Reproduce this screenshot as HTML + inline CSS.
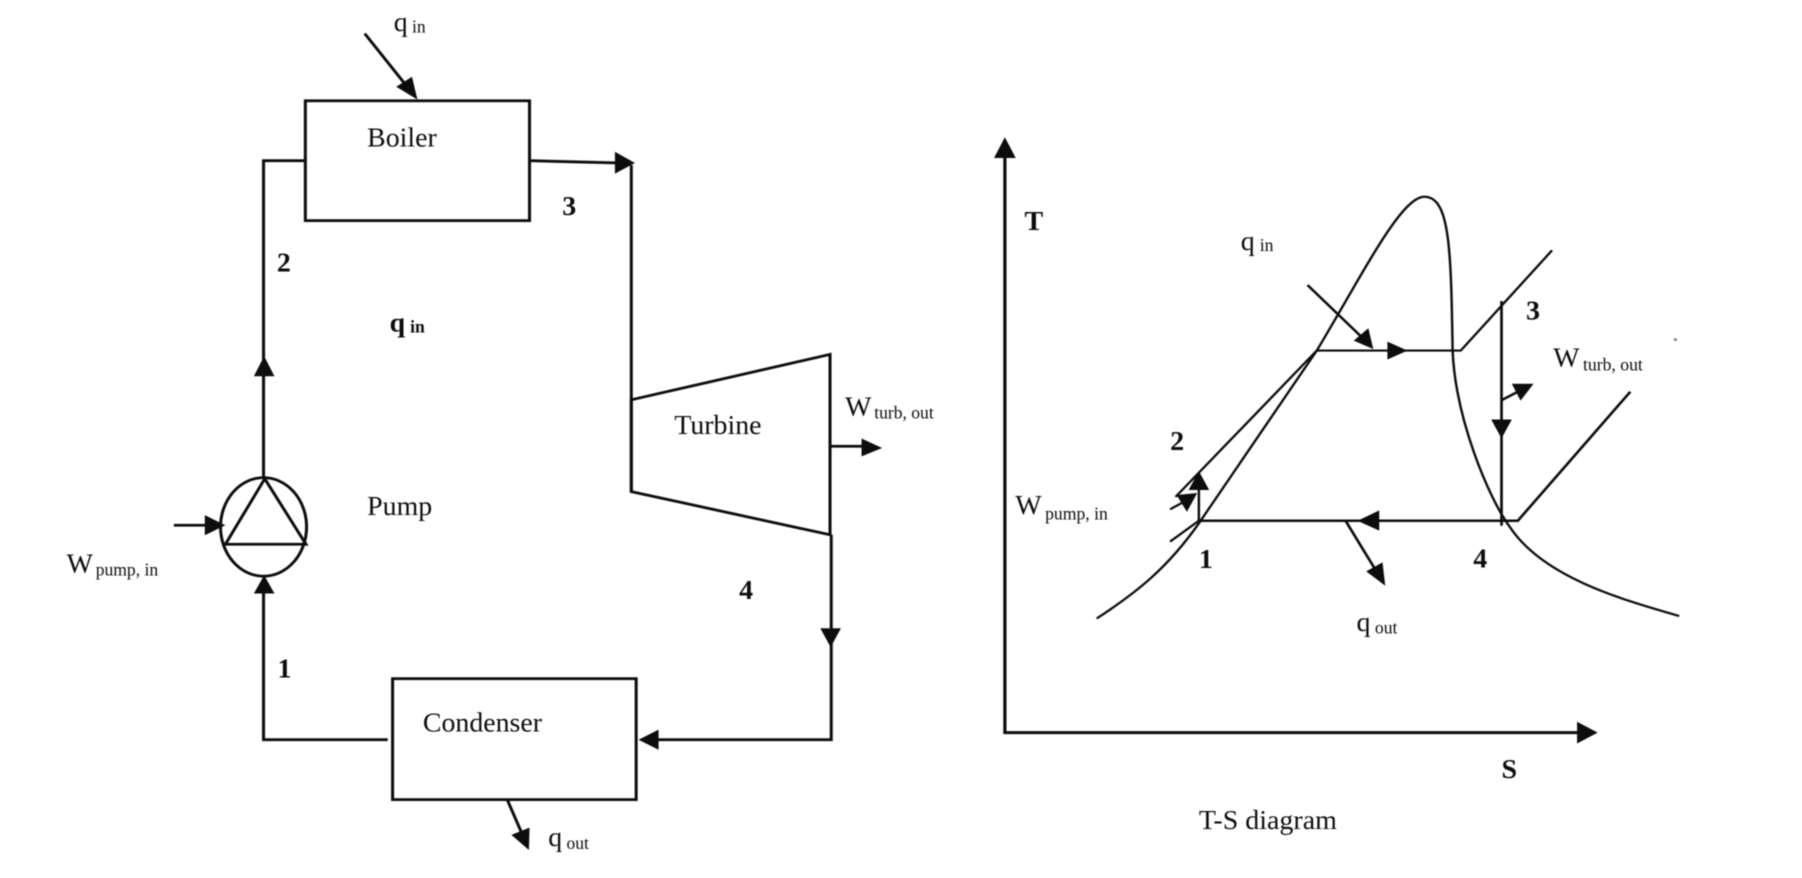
<!DOCTYPE html>
<html><head><meta charset="utf-8"><style>
html,body{margin:0;padding:0;background:#fff;width:1802px;height:878px;overflow:hidden}
svg{display:block}
text{font-family:"Liberation Serif",serif;fill:#111}
.b{font-weight:bold}
.l{font-size:46px}.ls{font-size:29px}
.r{font-size:51.5px}.rs{font-size:32.5px}
path,line,ellipse,rect,polygon.o{fill:none;stroke:#111;stroke-width:5}
polygon.h{fill:#111;stroke:none}
</style></head><body>
<svg width="1802" height="878" viewBox="0 0 1802 878" xmlns="http://www.w3.org/2000/svg">
<defs><filter id="f" x="-5%" y="-5%" width="110%" height="110%"><feGaussianBlur stdDeviation="0.6"/></filter></defs>
<g filter="url(#f)">
<g transform="scale(0.60586,0.55995)">
<rect x="504" y="180" width="370" height="214"/>
<rect x="648" y="1212" width="402" height="216"/>
<path d="M503,287H435V855"/>
<path d="M874,287L1020,291"/>
<polygon class="h" points="1048,291 1015,271 1015,310"/>
<path d="M1042,295V878"/>
<polygon class="o" points="1042,714 1370,633 1370,955 1042,878"/>
<path d="M1372,955V1321H1080"/>
<polygon class="h" points="1371,1156 1354,1122 1388,1122"/>
<polygon class="h" points="1054,1321 1087,1303 1087,1339"/>
<path d="M640,1321H435V1050"/>
<polygon class="h" points="436,1027 419,1060 453,1060"/>
<ellipse cx="435" cy="941" rx="71" ry="88"/>
<polygon class="o" points="437,855 372,972 505,972"/>
<polygon class="h" points="436,636 419,672 453,672"/>
<path d="M602,60L670,152"/>
<polygon class="h" points="689,178 654,155 680,137"/>
<path d="M287,938H345"/>
<polygon class="h" points="372,938 338,920 338,956"/>
<path d="M1372,797H1430"/>
<polygon class="h" points="1456,800 1422,783 1422,815"/>
<path d="M838,1430L860,1485"/>
<polygon class="h" points="873,1518 844,1491 874,1478"/>
</g>
<g transform="scale(0.60586)">
<text class="l" x="606" y="242">Boiler</text>
<text class="l" x="1113" y="716">Turbine</text>
<text class="l" x="606" y="850">Pump</text>
<text class="l" x="698" y="1207">Condenser</text>
<text class="l b" x="928" y="355">3</text>
<text class="l b" x="457" y="448">2</text>
<text class="l b" x="458" y="1118">1</text>
<text class="l b" x="1220" y="989">4</text>
<text class="l" x="650" y="51">q</text><text class="ls" x="680" y="54">in</text>
<text class="l b" x="643" y="547">q</text><text class="ls b" x="677" y="549">in</text>
<text class="l" x="110" y="945">W</text><text class="ls" x="158" y="950">pump, in</text>
<text class="l" x="1395" y="686">W</text><text class="ls" x="1443" y="691">turb, out</text>
<text class="l" x="905" y="1396">q</text><text class="ls" x="935" y="1401">out</text>
</g>
<g transform="translate(950,100) scale(0.54337,0.49617)">
<path d="M101,100V1275H1165" style="stroke-width:6"/>
<polygon class="h" points="101,75 81,117 121,117"/>
<polygon class="h" points="1192,1275 1154,1253 1154,1297"/>
<path d="M270,1045C340,995 400,945 460,850L675,505C760,350 830,195 873,195C920,195 922,300 925,505C930,640 990,800 1030,860C1090,960 1230,1005 1342,1040" style="stroke-width:4.5"/>
<path d="M415,800L675,505H940L1108,303" style="stroke-width:4.5"/>
<polygon class="h" points="842,505 805,487 805,523"/>
<path d="M405,890L458,848V785" style="stroke-width:4.5"/>
<polygon class="h" points="458,748 439,786 477,786"/>
<path d="M405,825L430,810" style="stroke-width:4.5"/>
<polygon class="h" points="455,792 417,796 436,830"/>
<path d="M458,848H1045L1252,588" style="stroke-width:5"/>
<polygon class="h" points="750,848 790,827 790,868"/>
<path d="M1015,405V858" style="stroke-width:5"/>
<polygon class="h" points="1015,682 996,644 1034,644"/>
<path d="M1015,605L1045,588" style="stroke-width:5"/>
<polygon class="h" points="1074,572 1034,572 1050,606"/>
<path d="M658,373L755,475" style="stroke-width:5"/>
<polygon class="h" points="779,502 743,485 770,460"/>
<path d="M728,848L782,945" style="stroke-width:5"/>
<polygon class="h" points="801,979 766,950 796,932"/>
<ellipse cx="1335" cy="483" rx="3" ry="3" style="fill:#888;stroke:none"/>
</g>
<g transform="translate(950,100) scale(0.54337)">
<text class="r b" x="137" y="239">T</text>
<text class="r" x="535" y="276">q</text><text class="rs" x="570" y="278">in</text>
<text class="r" x="1110" y="490">W</text><text class="rs" x="1165" y="498">turb, out</text>
<text class="r" x="120" y="762">W</text><text class="rs" x="175" y="772">pump, in</text>
<text class="r b" x="405" y="644">2</text>
<text class="r b" x="1060" y="404">3</text>
<text class="r b" x="458" y="861">1</text>
<text class="r b" x="963" y="860">4</text>
<text class="r" x="748" y="977">q</text><text class="rs" x="782" y="982">out</text>
<text class="r b" x="1015" y="1248">S</text>
<text class="r" x="458" y="1342">T-S diagram</text>
</g>
</g>
</svg>
</body></html>
